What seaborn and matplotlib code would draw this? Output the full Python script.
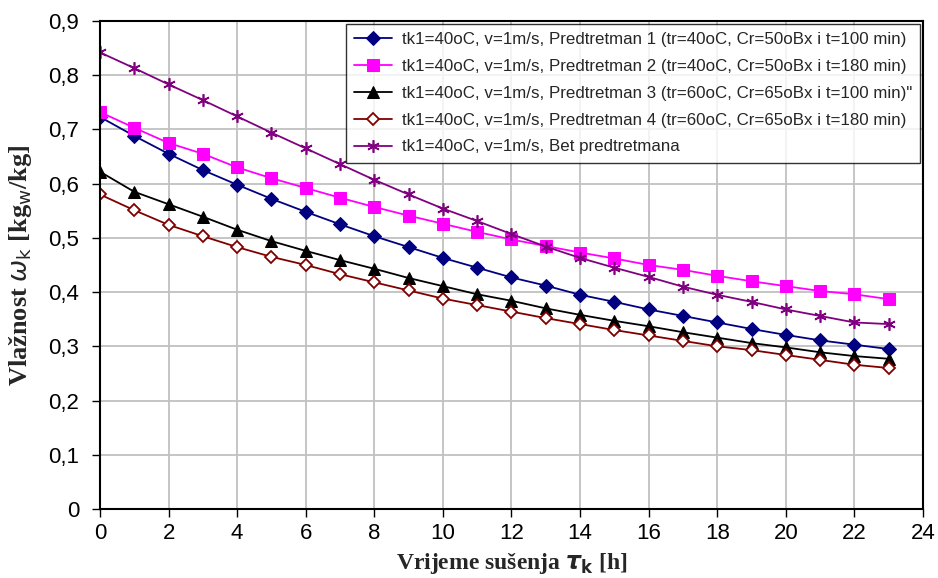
import pandas as pd
import matplotlib
matplotlib.use('Agg')
import matplotlib.pyplot as plt
import seaborn as sns

hours = list(range(24))

predtretman_1 = [0.723, 0.688, 0.655, 0.625, 0.598, 0.572, 0.548, 0.525,
                 0.503, 0.483, 0.463, 0.445, 0.427, 0.412, 0.395, 0.382,
                 0.368, 0.356, 0.344, 0.332, 0.321, 0.311, 0.303, 0.295]
predtretman_2 = [0.732, 0.703, 0.675, 0.655, 0.630, 0.610, 0.592, 0.574,
                 0.557, 0.541, 0.526, 0.511, 0.497, 0.485, 0.473, 0.462,
                 0.450, 0.441, 0.430, 0.420, 0.411, 0.402, 0.396, 0.387]
predtretman_3 = [0.622, 0.585, 0.562, 0.539, 0.515, 0.494, 0.476, 0.459,
                 0.443, 0.426, 0.411, 0.396, 0.384, 0.370, 0.358, 0.347,
                 0.337, 0.326, 0.316, 0.306, 0.298, 0.289, 0.282, 0.277]
predtretman_4 = [0.580, 0.551, 0.524, 0.503, 0.483, 0.465, 0.450, 0.433,
                 0.418, 0.403, 0.388, 0.376, 0.364, 0.352, 0.341, 0.330,
                 0.320, 0.310, 0.300, 0.293, 0.284, 0.275, 0.266, 0.260]
bez_predtretmana = [0.842, 0.813, 0.783, 0.754, 0.724, 0.694, 0.665, 0.636,
                    0.607, 0.580, 0.554, 0.531, 0.507, 0.484, 0.463, 0.445,
                    0.428, 0.410, 0.395, 0.382, 0.368, 0.356, 0.344, 0.341]

labels = [
    'tk1=40oC, v=1m/s, Predtretman 1 (tr=40oC, Cr=50oBx i t=100 min)',
    'tk1=40oC, v=1m/s, Predtretman 2 (tr=40oC, Cr=50oBx i t=180 min)',
    'tk1=40oC, v=1m/s, Predtretman 3 (tr=60oC, Cr=65oBx i t=100 min)"',
    'tk1=40oC, v=1m/s, Predtretman 4 (tr=60oC, Cr=65oBx i t=180 min)',
    'tk1=40oC, v=1m/s, Bet predtretmana',
]

sns.set_style('white')
plt.rcParams['font.family'] = ['Liberation Sans', 'DejaVu Sans']

fig = plt.figure(figsize=(9.38, 5.78), dpi=100)
ax = fig.add_axes([0.1066, 0.1194, 0.8774, 0.8443])

styles = [
    dict(color='#000080', marker='D', markersize=7, mfc='#000080', mec='#000080'),
    dict(color='#FF00FF', marker='s', markersize=8, mfc='#FF00FF', mec='#FF00FF'),
    dict(color='black', marker='^', markersize=8, mfc='black', mec='black'),
    dict(color='#800000', marker='D', markersize=6, mfc='white', mec='#800000',
         markeredgewidth=1.3),
    dict(color='#800080', marker=(6, 2, 0), markersize=9, mec='#800080',
         markeredgewidth=1.2),
]
series = [predtretman_1, predtretman_2, predtretman_3, predtretman_4,
          bez_predtretmana]

for values, label, st in zip(series, labels, styles):
    df = pd.DataFrame({'t': hours, 'w': values})
    sns.lineplot(data=df, x='t', y='w', ax=ax, label=label, linewidth=1.3,
                 **st)

ax.set_xlim(0, 24)
ax.set_ylim(0, 0.9)
ax.set_xticks(range(0, 25, 2))
yt = [i / 10 for i in range(10)]
ax.set_yticks(yt)
ax.set_yticklabels(['0'] + [f'0,{i}' for i in range(1, 10)])
ax.tick_params(axis='both', labelsize=16, direction='out', length=6,
               width=1, colors='black', left=True, bottom=True)
ax.tick_params(axis='y', pad=9)
ax.tick_params(axis='x', pad=4)
ax.grid(True, color='#c0c0c0', linewidth=1.3)
ax.set_axisbelow(True)
for s in ax.spines.values():
    s.set_color('black')
    s.set_linewidth(1.5)

ax.set_xlabel(r'Vrijeme sušenja $\boldsymbol{\tau}_\mathbf{k}$ [h]', fontsize=17,
              fontweight='bold', family='Liberation Serif')
ax.set_ylabel(r'Vlažnost $\omega_\mathrm{k}$ [kg$_\mathrm{w}$/kg]', fontsize=19,
              fontweight='bold', family='Liberation Serif')
ax.xaxis.set_label_coords(0.5, -0.086)
ax.yaxis.set_label_coords(-0.08, 0.5)

leg = ax.legend(loc='upper right', fontsize=12.2, frameon=True, fancybox=False,
                edgecolor='black', borderaxespad=0.15, handlelength=2.2,
                labelspacing=0.7, borderpad=0.5, handletextpad=0.6)
leg.get_frame().set_linewidth(1.0)

plt.savefig('out.png', dpi=100)
